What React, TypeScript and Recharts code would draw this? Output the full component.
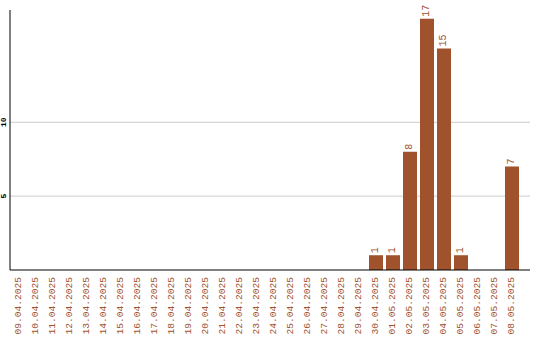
import { Bar, BarChart, CartesianGrid, LabelList, XAxis, YAxis } from "recharts"

const dates = [
  "09.04.2025", "10.04.2025", "11.04.2025", "12.04.2025", "13.04.2025",
  "14.04.2025", "15.04.2025", "16.04.2025", "17.04.2025", "18.04.2025",
  "19.04.2025", "20.04.2025", "21.04.2025", "22.04.2025", "23.04.2025",
  "24.04.2025", "25.04.2025", "26.04.2025", "27.04.2025", "28.04.2025",
  "29.04.2025", "30.04.2025", "01.05.2025", "02.05.2025", "03.05.2025",
  "04.05.2025", "05.05.2025", "06.05.2025", "07.05.2025", "08.05.2025",
]
const counts = [
  0, 0, 0, 0, 0, 0, 0, 0, 0, 0,
  0, 0, 0, 0, 0, 0, 0, 0, 0, 0,
  0, 1, 1, 8, 17, 15, 1, 0, 0, 7,
]
const yTicks = [5, 10]

const SIENNA = "#A0522D"
const MONO = "'Liberation Mono', 'DejaVu Sans Mono', monospace"

const data = dates.map((d, i) => ({ date: d, count: counts[i] }))

function DateTick({ x, payload }: any) {
  const ty = 277
  return (
    <text
      x={x}
      y={ty}
      transform={`rotate(-90, ${x}, ${ty})`}
      textAnchor="end"
      dominantBaseline="central"
      fill={SIENNA}
      fontFamily={MONO}
      fontSize={9.6}
    >
      {payload.value}
    </text>
  )
}

function CountTick({ y, payload }: any) {
  return (
    <text
      x={4}
      y={y}
      transform={`rotate(-90, 4, ${y})`}
      textAnchor="middle"
      dominantBaseline="central"
      fill="#000"
      fontFamily={MONO}
      fontSize={8}
      fontWeight="bold"
    >
      {payload.value}
    </text>
  )
}

function BarValue({ x, y, width, value }: any) {
  if (!value) return null
  const cx = x + width / 2
  const ty = y - 2
  return (
    <text
      x={cx}
      y={ty}
      transform={`rotate(-90, ${cx}, ${ty})`}
      textAnchor="start"
      dominantBaseline="central"
      fill={SIENNA}
      fontFamily={MONO}
      fontSize={10}
    >
      {value}
    </text>
  )
}

export default function App() {
  return (
    <div style={{ position: "absolute", left: 0, top: 0, width: 540, height: 340, background: "#fff" }}>
      <BarChart
        width={540}
        height={340}
        data={data}
        margin={{ top: 10, right: 10, left: 0, bottom: 0 }}
        barCategoryGap={3}
      >
        <CartesianGrid vertical={false} stroke="#cccccc" horizontalValues={yTicks} />
        <XAxis
          dataKey="date"
          interval={0}
          tickLine={false}
          axisLine={{ stroke: "#000" }}
          tick={<DateTick />}
          height={70}
          padding={{ left: 0, right: 10 }}
        />
        <YAxis
          domain={[0, 17.6]}
          ticks={yTicks}
          width={10}
          tickLine={false}
          axisLine={{ stroke: "#000" }}
          tick={<CountTick />}
        />
        <Bar dataKey="count" fill={SIENNA} barSize={14} isAnimationActive={false}>
          <LabelList dataKey="count" content={<BarValue />} />
        </Bar>
      </BarChart>
    </div>
  )
}
